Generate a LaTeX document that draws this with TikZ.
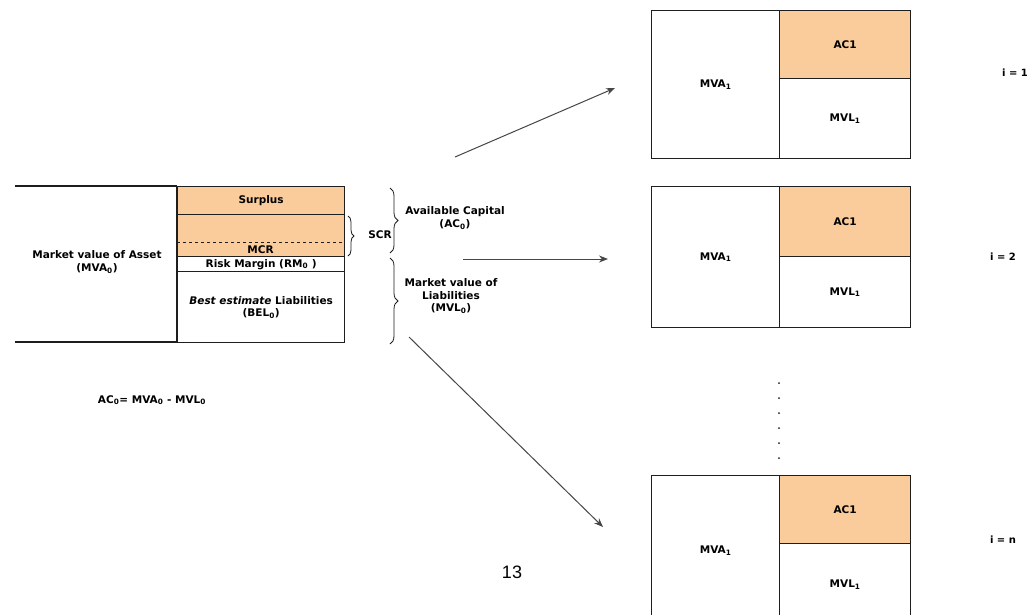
\documentclass[tikz,border=0pt]{standalone}
\usepackage{fontspec}
\setmainfont{DejaVu Sans}
\newfontfamily\pagefont{Liberation Sans}
\usetikzlibrary{arrows.meta,decorations.pathreplacing}
\definecolor{peach}{RGB}{250,203,155}
\definecolor{ink}{RGB}{30,30,30}
\definecolor{arrowgray}{RGB}{70,70,70}
\tikzset{
  cell/.style={draw=ink, line width=1.3pt, anchor=north west, inner sep=0pt, font=\bfseries\fontsize{10.5}{12.5}\selectfont, align=center},
  lbl/.style={font=\bfseries\fontsize{10.5}{12.5}\selectfont, align=center, inner sep=0pt},
  small/.style={font=\bfseries\fontsize{10}{12}\selectfont, align=center, inner sep=0pt},
  link/.style={draw=arrowgray, line width=1pt, -{Stealth[length=9pt,width=7pt]}},
  brace/.style={draw=ink, line width=0.8pt, decorate, decoration={brace, amplitude=6pt}},
}
\begin{document}
\begin{tikzpicture}[x=1pt,y=-1pt]
\clip (0,0) rectangle (1029,614);
\fill[white] (0,0) rectangle (1029,614);

% ---------- left balance sheet ----------
\draw[ink, line width=1.3pt] (15,186) -- (177,186);
\draw[ink, line width=1.3pt] (15,342) -- (177,342);
\node[lbl] (mva0) at (97,262) {Market value of Asset\\(MVA\textsubscript{0})};
\node[cell, fill=peach, minimum width=167, minimum height=28] (surplus) at (177,186) {Surplus};
\node[cell, fill=peach, minimum width=167, minimum height=42] (scr) at (177,214) {};
\draw[ink, line width=0.6pt, dashed] (177,242) -- (344,242);
\node[lbl] (mcr) at (260.5,249.5) {MCR};
\node[cell, minimum width=167, minimum height=15] (rm) at (177,256) {Risk Margin (RM\textsubscript{0} )};
\node[cell, minimum width=167, minimum height=71] (bel) at (177,271) {\textit{Best estimate} Liabilities\\(BEL\textsubscript{0})};
\draw[ink, line width=1.3pt] (177,186) -- (177,342);

% braces
\draw[brace] (348,216) -- (348,256);
\node[lbl] (scrl) at (380,235) {SCR};
\draw[brace, decoration={brace, amplitude=8pt}] (390,188) -- (390,253);
\node[lbl] (ac0) at (455,218) {Available Capital\\(AC\textsubscript{0})};
\draw[brace, decoration={brace, amplitude=8pt}] (390,258) -- (390,344);
\node[lbl] (mvl0) at (451,296) {Market value of\\Liabilities\\(MVL\textsubscript{0})};

\node[lbl] (eq) at (152,400) {AC\textsubscript{0}= MVA\textsubscript{0} - MVL\textsubscript{0}};

% ---------- right blocks ----------
% i = 1
\node[cell, minimum width=128, minimum height=148] (a1) at (651,10) {MVA\textsubscript{1}};
\node[cell, fill=peach, minimum width=131, minimum height=68] (c1) at (779,10) {AC1};
\node[cell, minimum width=131, minimum height=80] (l1) at (779,78) {MVL\textsubscript{1}};
\node[small] (i1) at (1015,73) {i = 1};
% i = 2
\node[cell, minimum width=128, minimum height=141] (a2) at (651,186) {MVA\textsubscript{1}};
\node[cell, fill=peach, minimum width=131, minimum height=70] (c2) at (779,186) {AC1};
\node[cell, minimum width=131, minimum height=71] (l2) at (779,256) {MVL\textsubscript{1}};
\node[small] (i2) at (1003,257) {i = 2};
% i = n
\node[cell, minimum width=128, minimum height=150] (a3) at (651,475) {MVA\textsubscript{1}};
\node[cell, fill=peach, minimum width=131, minimum height=68] (c3) at (779,475) {AC1};
\node[cell, minimum width=131, minimum height=82] (l3) at (779,543) {MVL\textsubscript{1}};
\node[small] (i3) at (1003,540) {i = n};

% dots
\foreach \yy in {383,398,413,428,443,458}
  \fill[ink] (779,\yy) circle (1pt);

% arrows
\coordinate (s1) at (455,157); \coordinate (t1) at (615,88);
\coordinate (s2) at (463,259); \coordinate (t2) at (608,259);
\coordinate (s3) at (409,337); \coordinate (t3) at (603,527);
\draw[link] (s1) -- (t1);
\draw[link] (s2) -- (t2);
\draw[link] (s3) -- (t3);

% page number
\node[font=\pagefont\fontsize{18}{20}\selectfont, inner sep=0pt] (page) at (512,572) {13};
\end{tikzpicture}
\end{document}
